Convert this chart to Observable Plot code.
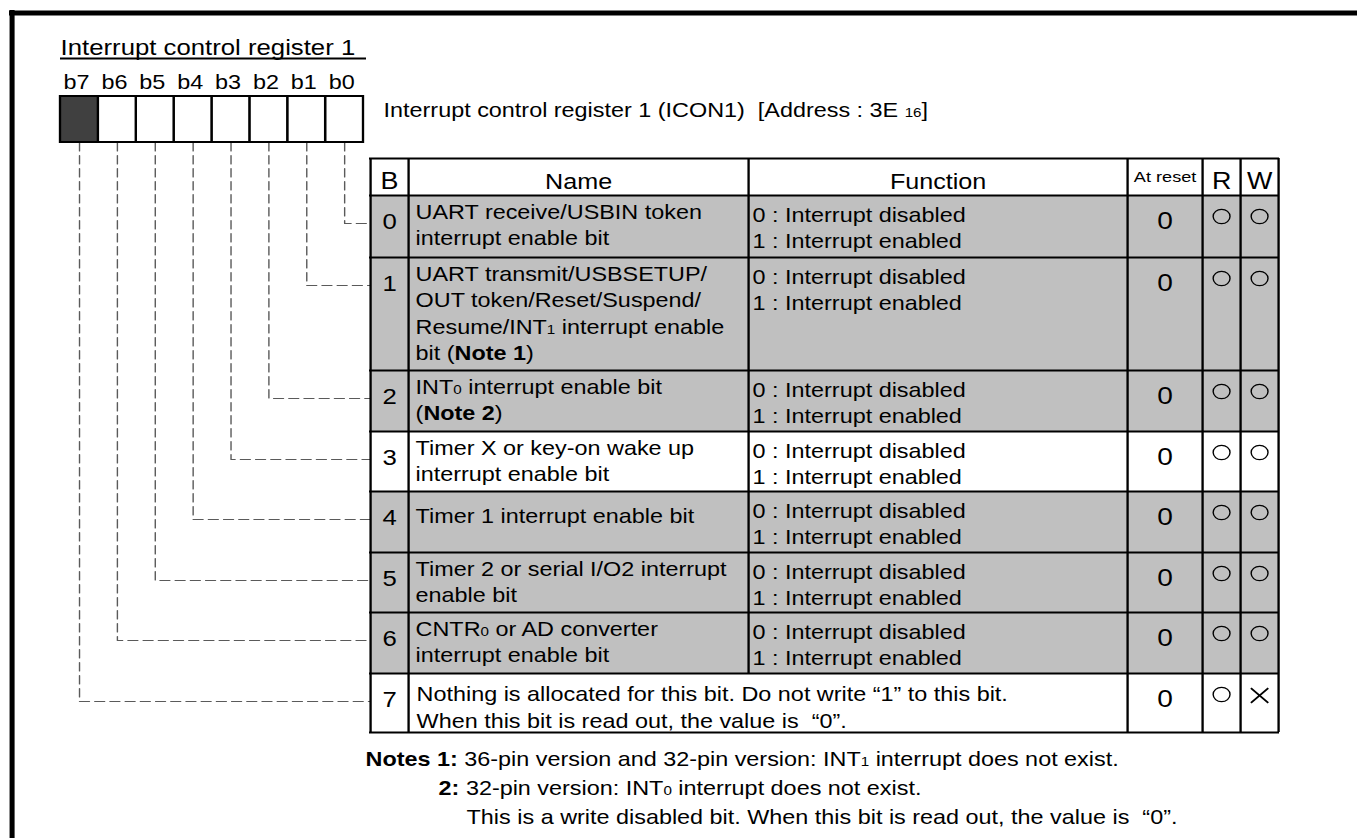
<!DOCTYPE html>
<html><head><meta charset="utf-8">
<script src="https://cdn.jsdelivr.net/npm/d3@7"></script>
<script src="https://cdn.jsdelivr.net/npm/@observablehq/plot@0.6"></script>
<style>html,body{margin:0;padding:0;background:#fff;overflow:hidden}</style>
</head><body><div id="chart"></div>
<script>
// ---------------- data ----------------
const titleText = "Interrupt control register 1";
const bitLabels = ["b7", "b6", "b5", "b4", "b3", "b2", "b1", "b0"];
const registerDescription = "Interrupt control register 1 (ICON1)  [Address : 3E ~16~]";
const headers = ["B", "Name", "Function", "At reset", "R", "W"];
const bitNumbers = [0, 1, 2, 3, 4, 5, 6, 7];
const bitNames = [
  ["UART receive/USBIN token", "interrupt enable bit"],
  ["UART transmit/USBSETUP/", "OUT token/Reset/Suspend/", "Resume/INT~1~ interrupt enable", "bit (*Note 1*)"],
  ["INT~0~ interrupt enable bit", "(*Note 2*)"],
  ["Timer X or key-on wake up", "interrupt enable bit"],
  ["Timer 1 interrupt enable bit"],
  ["Timer 2 or serial I/O2 interrupt", "enable bit"],
  ["CNTR~0~ or AD converter", "interrupt enable bit"],
  ["Nothing is allocated for this bit. Do not write \u201C1\u201D to this bit.", "When this bit is read out, the value is  \u201C0\u201D."]
];
const enableFunction = ["0 : Interrupt disabled", "1 : Interrupt enabled"];
const bitFunctions = [enableFunction, enableFunction, enableFunction, enableFunction, enableFunction, enableFunction, enableFunction, null];
const resetValues = ["0", "0", "0", "0", "0", "0", "0", "0"];
const readable = [true, true, true, true, true, true, true, true];
const writable = [true, true, true, true, true, true, true, false];
const shaded = [true, true, true, false, true, true, true, false];
const unusedBits = [7];
const noteLines = [
  "*Notes 1:* 36-pin version and 32-pin version: INT~1~ interrupt does not exist.",
  "*2:* 32-pin version: INT~0~ interrupt does not exist.",
  "This is a write disabled bit. When this bit is read out, the value is  \u201C0\u201D."
];

// ---------------- layout (pixels of the 1357x838 picture) ----------------
const PW = 1357, H = 838, W = 1160;           // drawing is stretched horizontally
const cols = [370, 408, 748, 1127, 1202, 1240, 1278];
const rowEdges = [158, 195, 257, 370, 431, 491, 552, 612, 673, 732];
const reg = {x0: 60, x1: 363, y0: 96, y1: 142, labelY: 88};
const cellW = (reg.x1 - reg.x0) / 8;
const colCenter = k => (cols[k] + cols[k + 1]) / 2;
const rowTop = b => rowEdges[b + 1];
const rowBottom = b => rowEdges[b + 2];
const cellX = b => reg.x0 + (7 - b) * cellW;
const GRAY = "#c0c0c0", DARK = "#404040", LEADER = "#5a5a5a";

// derived tables
const regCells = bitNumbers.map(b => ({b, x1: cellX(b), x2: cellX(b) + cellW, fill: unusedBits.includes(b) ? DARK : "white"}));
const regLabels = bitLabels.map((t, i) => ({text: t, x: reg.x0 + (i + 0.5) * cellW - 3, y: reg.labelY}));
const leaders = bitNumbers.flatMap(b => {
  const cx = cellX(b) + cellW / 2, yl = rowTop(b) + 28;
  return [{b, x: cx, y: reg.y1}, {b, x: cx, y: yl}, {b, x: cols[0], y: yl}];
});
const rowFills = bitNumbers.map(b => ({x1: cols[0], x2: cols[6], y1: rowTop(b), y2: rowBottom(b), fill: shaded[b] ? GRAY : "white"}));
const hLines = rowEdges.map(y => ({y}));
const vLines = cols.map((x, k) => ({x, y1: rowEdges[0], y2: k === 2 ? rowEdges[8] : rowEdges[9]}));
const headerCells = headers.map((t, k) => {
  const small = t === "At reset", single = t.length === 1;
  return {text: t, x: colCenter(k), y: small ? 181.5 : 188, size: small ? 15.5 : single ? 23 : 21.5};
});
const nameLines = bitNumbers.flatMap(b => {
  const lines = bitNames[b];
  const merged = bitFunctions[b] === null;
  const first = merged ? 27 : lines.length === 1 ? 31 : 23;
  const step = merged ? 27 : 26.5;
  return lines.map((t, i) => ({text: t, x: merged ? 416 : 415, y: rowTop(b) + first + i * step}));
});
const funcLines = bitNumbers.flatMap(b => (bitFunctions[b] || []).map((t, i) => ({text: t, x: 752, y: rowTop(b) + 26 + i * 26})));
const bDigits = bitNumbers.map(b => ({text: String(b), x: colCenter(0), y: rowTop(b) + 33}));
const resetCells = bitNumbers.map(b => ({text: resetValues[b], x: colCenter(3), y: rowTop(b) + 33}));
const circles = [
  ...bitNumbers.filter(b => readable[b]).map(b => ({x: colCenter(4), y: rowTop(b) + 21})),
  ...bitNumbers.filter(b => writable[b]).map(b => ({x: colCenter(5), y: rowTop(b) + 21}))
];
const crosses = bitNumbers.filter(b => !writable[b]).map(b => ({x: colCenter(5), y: rowTop(b) + 22}));
const noteX = [365, 438, 466], noteY = [765, 794, 823];
const notes = noteLines.map((t, i) => ({text: t, x: noteX[i], y: noteY[i]}));

const txt = (data, opts) => Plot.text(data, {x: "x", y: "y", text: "text", fill: "black", lineAnchor: "bottom", textAnchor: "start", ...opts});

const svg = Plot.plot({
  width: W, height: H, margin: 0,
  x: {type: "linear", domain: [0, PW], range: [0, W], axis: null},
  y: {type: "linear", domain: [0, H], range: [0, H], axis: null},
  marks: [
    // frame
    Plot.ruleY([12.5], {y: d => d, x1: 9, x2: PW + 20, stroke: "black", strokeWidth: 5}),
    Plot.ruleX([11.5], {x: d => d, y1: 10, y2: H + 20, stroke: "black", strokeWidth: 4.3}),
    // title
    txt([{text: titleText, x: 60, y: 54}], {fontSize: 22}),
    Plot.ruleY([58], {y: d => d, x1: 60, x2: 366, stroke: "black", strokeWidth: 2}),
    // register
    txt(regLabels, {fontSize: 20, textAnchor: "middle"}),
    Plot.line(leaders, {x: "x", y: "y", z: "b", stroke: LEADER, strokeWidth: 1.2, strokeDasharray: "8.5,4.5", curve: "linear"}),
    Plot.rect(regCells, {x1: "x1", x2: "x2", y1: () => reg.y0, y2: () => reg.y1, fill: "fill", stroke: "black", strokeWidth: 2}),
    txt([{text: registerDescription, x: 383, y: 116}], {fontSize: 20}),
    // table
    Plot.rect(rowFills, {x1: "x1", x2: "x2", y1: "y1", y2: "y2", fill: "fill"}),
    Plot.ruleY(hLines, {y: "y", x1: cols[0] - 1, x2: cols[6] + 1, stroke: "black", strokeWidth: 2}),
    Plot.ruleX(vLines, {x: "x", y1: "y1", y2: "y2", stroke: "black", strokeWidth: 2}),
    txt(headerCells, {textAnchor: "middle", fontSize: d => d.size}),
    txt(bDigits, {textAnchor: "middle", fontSize: 22}),
    txt(nameLines, {fontSize: 20}),
    txt(funcLines, {fontSize: 20}),
    txt(resetCells, {textAnchor: "middle", fontSize: 24}),
    Plot.dot(circles, {x: "x", y: "y", r: 7.2, stroke: "black", fill: "none", strokeWidth: 1.2}),
    Plot.dot(crosses, {x: "x", y: "y", r: 6.8, symbol: "times", stroke: "black", strokeWidth: 1.6}),
    // notes
    txt(notes, {fontSize: 20})
  ]
});

// rich text: *bold*, ~subscript~
svg.querySelectorAll("text").forEach(t => {
  const s = t.textContent;
  if (!/[*~]/.test(s)) return;
  t.textContent = "";
  s.split(/(\*[^*]+\*|~[^~]+~)/).forEach(part => {
    if (!part) return;
    const ts = document.createElementNS("http://www.w3.org/2000/svg", "tspan");
    if (part[0] === "*") { ts.setAttribute("font-weight", "bold"); ts.textContent = part.slice(1, -1); }
    else if (part[0] === "~") { ts.setAttribute("font-size", "0.65em"); ts.textContent = part.slice(1, -1); }
    else ts.textContent = part;
    t.appendChild(ts);
  });
});
svg.querySelectorAll("text").forEach(t => t.style.whiteSpace = "pre");

svg.setAttribute("width", PW);
svg.setAttribute("height", H);
svg.setAttribute("preserveAspectRatio", "none");
svg.setAttribute("style", "display:block;width:" + PW + "px;height:" + H + "px;max-width:none;background:white;font-family:'Liberation Sans',Arial,Helvetica,sans-serif;");
document.getElementById("chart").appendChild(svg);
</script>
</body></html>
